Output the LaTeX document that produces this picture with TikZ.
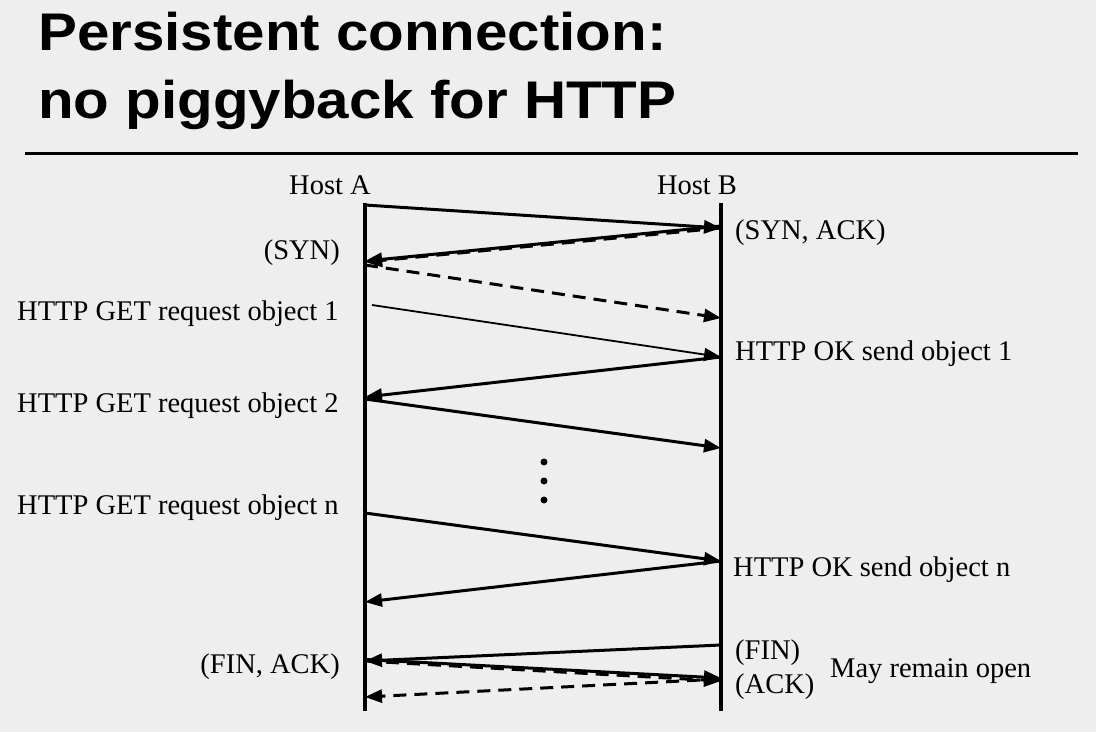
\documentclass[tikz,border=0pt]{standalone}
\usepackage{fontspec}
\setmainfont{Liberation Serif}
\newfontfamily\titlefont{Liberation Sans}
\usetikzlibrary{arrows.meta}
\definecolor{slidebg}{HTML}{EEEEEE}
\tikzset{
  msg/.style={line width=3pt, -{Triangle[length=17pt,width=13pt]}},
  thinmsg/.style={line width=1.8pt, -{Triangle[length=17pt,width=13pt]}},
  ackmsg/.style={msg, dash pattern=on 13pt off 8pt},
  lifeline/.style={line width=3.5pt},
  lbl/.style={inner sep=0pt, font=\fontsize{28.5}{34}\selectfont},
  ttl/.style={inner sep=0pt, anchor=base west, font=\titlefont\bfseries\fontsize{53}{60}\selectfont}
}
\begin{document}
\begin{tikzpicture}[x=1pt,y=-1pt]
  \newcommand\xa{365}
  \newcommand\xb{721}
  \fill[slidebg] (0,0) rectangle (1096,732);
  \useasboundingbox (0,0) rectangle (1096,732);

  % title
  \node[ttl] (title1) at (38,50) {\scalebox{1.1}[1]{Persistent connection:}};
  \node[ttl] (title2) at (38,118) {\scalebox{1.1}[1]{no piggyback for HTTP}};
  \draw[line width=3pt] (25,153) -- (1078,153);

  % hosts
  \node[lbl, anchor=base] (hostA) at (330,194) {Host A};
  \node[lbl, anchor=base] (hostB) at (697,194) {Host B};
  \coordinate (topA) at (\xa,203);
  \coordinate (botA) at (\xa,711);
  \coordinate (topB) at (\xb,203);
  \coordinate (botB) at (\xb,711);
  \draw[lifeline] (topA) -- (botA);
  \draw[lifeline] (topB) -- (botB);

  % points on the lifelines
  \coordinate (a1) at (\xa,205);
  \coordinate (b1) at (\xb,228);
  \coordinate (a2) at (\xa,262);
  \coordinate (a3) at (\xa,265);
  \coordinate (b3) at (\xb,318);
  \coordinate (a4) at (372,305);
  \coordinate (b4) at (\xb,357);
  \coordinate (a5) at (\xa,397);
  \coordinate (a6) at (\xa,399);
  \coordinate (b6) at (\xb,448);
  \coordinate (a8) at (\xa,513);
  \coordinate (b8) at (\xb,561);
  \coordinate (a9) at (\xa,602);
  \coordinate (b10) at (\xb,645);
  \coordinate (a10) at (\xa,661);
  \coordinate (b11) at (\xb,679);
  \coordinate (a13) at (\xa,697);

  % handshake
  \draw[msg] (a1) -- (b1);
  \draw[ackmsg] (b1) -- (a2);
  \draw[msg] ([yshift=2pt]b1) -- ([yshift=1pt]a2);
  \draw[ackmsg] (a3) -- (b3);

  % objects
  \draw[thinmsg] (a4) -- (b4);
  \draw[msg] (b4) -- (a5);
  \draw[msg] (a6) -- (b6);
  \foreach \y in {462,481,500}
    \fill (544,\y) circle (3.5pt);
  \draw[msg] (a8) -- (b8);
  \draw[msg] (b8) -- (a9);

  % teardown
  \draw[msg] (b10) -- (a10);
  \draw[ackmsg] (a10) -- ([yshift=-2pt]b11);
  \draw[msg] ([yshift=1.5pt]a10) -- ([yshift=1pt]b11);
  \draw[ackmsg] (b11) -- (a13);

  % labels
  \node[lbl, anchor=base east] (syn) at (340,259) {(SYN)};
  \node[lbl, anchor=base west] (synack) at (735,239) {(SYN, ACK)};
  \node[lbl, anchor=base west] (get1) at (17,320) {HTTP GET request object 1};
  \node[lbl, anchor=base west] (ok1) at (735,360) {HTTP OK send object 1};
  \node[lbl, anchor=base west] (get2) at (17,412) {HTTP GET request object 2};
  \node[lbl, anchor=base west] (getn) at (17,514) {HTTP GET request object n};
  \node[lbl, anchor=base west] (okn) at (733,576) {HTTP OK send object n};
  \node[lbl, anchor=base east] (finack) at (340,673) {(FIN, ACK)};
  \node[lbl, anchor=base west] (fin) at (735,659) {(FIN)};
  \node[lbl, anchor=base west] (ack) at (735,693) {(ACK)};
  \node[lbl, anchor=base west] (open) at (830,677) {May remain open};
\end{tikzpicture}
\end{document}
